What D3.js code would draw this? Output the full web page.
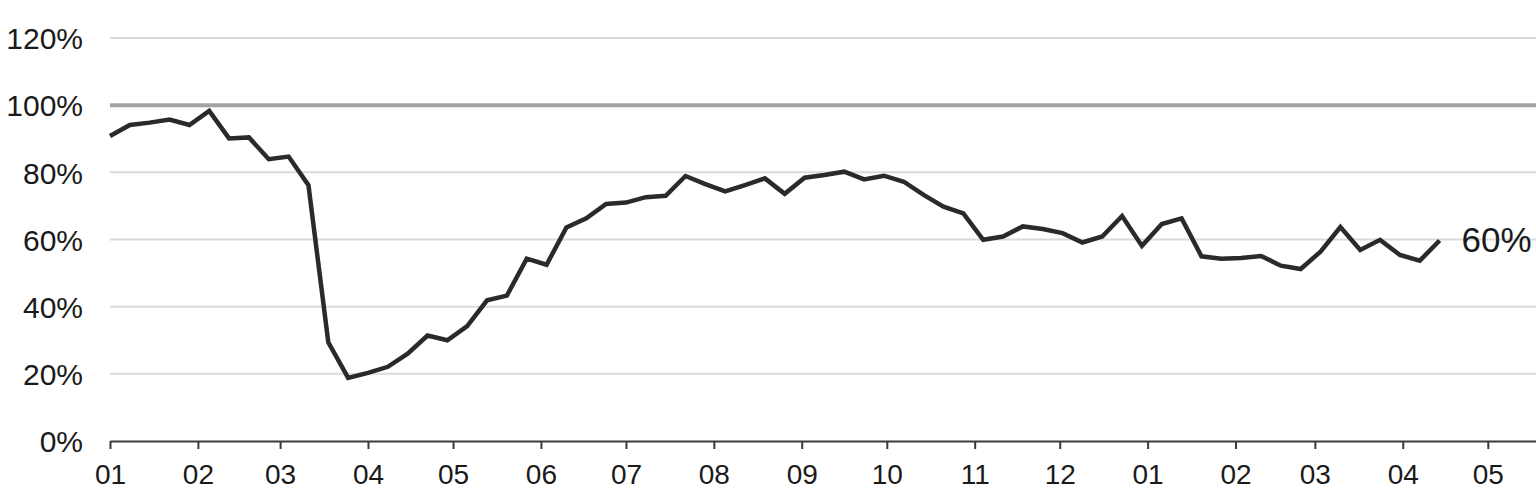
<!DOCTYPE html>
<html>
<head>
<meta charset="utf-8">
<script src="https://cdn.jsdelivr.net/npm/d3@7"></script>
<style>
  html, body { margin: 0; padding: 0; background: #ffffff; }
  svg { display: block; }
  text { font-family: "Liberation Sans", Arial, sans-serif; fill: #1a1a1a; }
</style>
</head>
<body>
<svg id="chart" width="1536" height="494"></svg>
<script>
// ---- data ----
const startDate = "2020-01-01";      // first weekly observation
const stepDays = 7;                  // weekly series
const values = [
  90.8, 94.1, 94.8, 95.7, 94.1, 98.3, 90.1, 90.4, 83.9, 84.7,
  76.2, 29.4, 18.8, 20.3, 22.1, 26.0, 31.4, 30.0, 34.2, 41.9,
  43.3, 54.3, 52.5, 63.6, 66.3, 70.6, 71.0, 72.6, 73.0, 78.9,
  76.5, 74.3, 76.2, 78.2, 73.6, 78.4, 79.2, 80.2, 77.9, 79.0,
  77.2, 73.3, 69.8, 67.8, 59.9, 60.9, 63.9, 63.1, 61.9, 59.1,
  60.9, 67.0, 58.1, 64.6, 66.3, 55.0, 54.3, 54.5, 55.1, 52.2,
  51.2, 56.4, 63.7, 56.9, 59.9, 55.4, 53.7, 59.7
];
const yTicks = [0, 20, 40, 60, 80, 100, 120];
const referenceLevel = [100];
const xDomain = ["2020-01-01", "2021-05-18"];
const lastLabel = "60%";

// ---- chart ----
const svg = d3.select("#chart");
const t0 = new Date(startDate + "T00:00:00Z");
const data = values.map((v, i) => ({ date: d3.utcDay.offset(t0, i * stepDays), value: v }));

const x = d3.scaleUtc()
  .domain(xDomain.map(d => new Date(d + "T00:00:00Z")))
  .range([110, 1536]);
const y = d3.scaleLinear().domain([0, 120]).range([441, 38]);

// gridlines
svg.append("g")
  .selectAll("line")
  .data(yTicks.filter(d => d > 0 && !referenceLevel.includes(d)))
  .join("line")
  .attr("x1", x.range()[0]).attr("x2", x.range()[1])
  .attr("y1", d => y(d)).attr("y2", d => y(d))
  .attr("stroke", "#dadada").attr("stroke-width", 2);

// 100% reference line
svg.append("g")
  .selectAll("line")
  .data(referenceLevel)
  .join("line")
  .attr("x1", x.range()[0]).attr("x2", x.range()[1])
  .attr("y1", d => y(d)).attr("y2", d => y(d))
  .attr("stroke", "#a3a3a3").attr("stroke-width", 4);

// y labels
const yAxis = svg.append("g")
  .attr("transform", "translate(110,0)")
  .call(d3.axisLeft(y).tickValues(yTicks).tickFormat(d => d + "%").tickSize(0).tickPadding(27));
yAxis.select(".domain").remove();
yAxis.selectAll("text")
  .attr("font-size", 30)
  .attr("font-family", "Liberation Sans, Arial, sans-serif")
  .attr("fill", "#1a1a1a")
  .attr("dy", "0.36em");

// x axis
const xAxis = svg.append("g")
  .attr("transform", "translate(0,441)")
  .call(d3.axisBottom(x).ticks(d3.utcMonth.every(1)).tickFormat(d3.utcFormat("%m")).tickSizeInner(8).tickSizeOuter(0).tickPadding(15));
xAxis.select(".domain").attr("stroke", "#3a3a3a").attr("stroke-width", 2);
xAxis.selectAll(".tick line").attr("stroke", "#3a3a3a").attr("stroke-width", 2);
xAxis.selectAll("text")
  .attr("font-size", 28)
  .attr("font-family", "Liberation Sans, Arial, sans-serif")
  .attr("fill", "#1a1a1a");

// line
const line = d3.line().x(d => x(d.date)).y(d => y(d.value));
svg.append("path")
  .datum(data)
  .attr("fill", "none")
  .attr("stroke", "#2a2a2a")
  .attr("stroke-width", 4.5)
  .attr("stroke-linejoin", "miter")
  .attr("d", line);

// end label
const last = data[data.length - 1];
svg.append("text")
  .attr("x", x(last.date) + 22)
  .attr("y", y(60))
  .attr("dy", "0.36em")
  .attr("font-size", 35)
  .text(lastLabel);
</script>
</body>
</html>
